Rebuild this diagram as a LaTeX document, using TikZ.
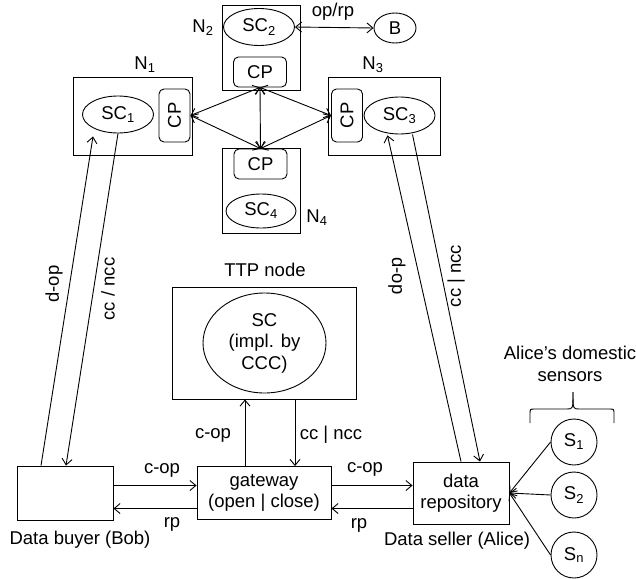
\documentclass[tikz,border=0pt]{standalone}
\usepackage{fontspec}
\setmainfont{Liberation Sans}
\usetikzlibrary{arrows.meta,shapes.geometric}

\begin{document}
\begin{tikzpicture}[
  x=1pt, y=-1pt,
  font=\fontsize{18.5}{21.5}\selectfont,
  line width=0.9pt,
  box/.style={rectangle, draw, inner sep=1pt, align=center},
  cpbox/.style={box, rounded corners=5pt, minimum width=53pt, minimum height=30pt},
  cpvbox/.style={box, rounded corners=5pt, minimum width=31pt, minimum height=53pt},
  sc/.style={ellipse, draw, inner sep=1pt, minimum width=71pt, minimum height=37pt, align=center},
  sensor/.style={circle, draw, inner sep=0pt, minimum size=46pt},
  arrow/.style={-{Straight Barb[length=6pt,width=10pt]}},
  biarrow/.style={{Straight Barb[length=6pt,width=10pt]}-{Straight Barb[length=6pt,width=10pt]}}
]
\useasboundingbox (0,0) rectangle (636,578);

% Blockchain nodes
\node[box, minimum width=78pt, minimum height=85pt] (n2) at (261,47.5) {};
\node[sc] (sc2) at (259,27) {SC\textsubscript{2}};
\node[cpbox] (cp2) at (260,72) {CP};
\node (n2lab) at (203,28) {N\textsubscript{2}};

\node[box, minimum width=119pt, minimum height=78pt] (n1) at (132.5,116) {};
\node[sc] (sc1) at (118,114.5) {SC\textsubscript{1}};
\node[cpvbox] (cp1) at (174.5,115.5) {\rotatebox{90}{CP}};
\node (n1lab) at (145,65) {N\textsubscript{1}};

\node[box, minimum width=112pt, minimum height=78pt] (n3) at (384,116) {};
\node[cpvbox] (cp3) at (347,115.5) {\rotatebox{90}{CP}};
\node[sc] (sc3) at (399.5,115.5) {SC\textsubscript{3}};
\node (n3lab) at (373,65) {N\textsubscript{3}};

\node[box, minimum width=78pt, minimum height=85pt] (n4) at (261,190.5) {};
\node[cpbox] (cp4) at (260.5,164) {CP};
\node[sc, minimum width=70pt, minimum height=34pt] (sc4) at (261,211) {SC\textsubscript{4}};
\node (n4lab) at (317,218) {N\textsubscript{4}};

\node[sc, minimum width=42pt, minimum height=30pt] (b) at (395,28) {B};

% TTP node
\node[box, minimum width=184pt, minimum height=112pt] (ttp) at (264,343) {};
\node[sc, minimum width=123pt, minimum height=100pt] (sc) at (264.5,343) {SC\\(impl. by\\CCC)};
\node (ttplab) at (265,270) {TTP node};

% Parties
\node[box, minimum width=96pt, minimum height=54pt] (bob) at (65,493) {};
\node (boblab) at (80,540) {Data buyer (Bob)};
\node[box, minimum width=134pt, minimum height=53pt] (gw) at (264,493) {gateway\\(open | close)};
\node[box, minimum width=96pt, minimum height=62pt] (repo) at (461,493) {data\\repository};
\node (alicelab) at (457,541) {Data seller (Alice)};

% Sensors
\node[sensor] (s1) at (574,442) {S\textsubscript{1}};
\node[sensor] (s2) at (574,495) {S\textsubscript{2}};
\node[sensor] (sn) at (574,555) {S\textsubscript{n}};
\node[align=center] (senslab) at (570,364) {Alice's domestic\\sensors};
\draw (530,423) -- (530,414) .. controls (530,409) .. (535,409) -- (567,409)
  .. controls (573,409) .. (573,392);
\draw (614,423) -- (614,414) .. controls (614,409) .. (609,409) -- (579,409)
  .. controls (573,409) .. (573,392);

% Arrows between CPs
\draw[biarrow] (cp1.east) -- (cp2.south);
\draw[biarrow] (cp1.east) -- (cp4.north);
\draw[biarrow] (cp2.south) -- (cp4.north);
\draw[biarrow] (cp2.south) -- (cp3.west);
\draw[biarrow] (cp4.north) -- (cp3.west);
\draw[biarrow] (sc2.east) -- (b.west);
\node (oprp) at (333,12) {op/rp};

% Long arrows
\draw[arrow] ([xshift=-24pt]bob.north) -- ([xshift=-25pt,yshift=-3pt]sc1.south);
\draw[arrow] (sc1.south) -- ([xshift=1pt]bob.north);
\node[rotate=90] (dop1) at (54,284) {d-op};
\node[rotate=90] (ncc1) at (108,289) {cc / ncc};
\draw[arrow] (repo.north) -- ([xshift=-12pt,yshift=-1pt]sc3.south);
\draw[arrow] ([xshift=13pt]sc3.south) -- ([xshift=19pt]repo.north);
\node[rotate=-90] (dop3) at (397,276) {d-op};
\node[rotate=90] (ncc3) at (456,276) {cc | ncc};

% Gateway arrows
\draw[arrow] ([yshift=7.5pt]bob.east) -- ([yshift=7.5pt]gw.west);
\draw[arrow] ([yshift=-15.5pt]gw.west) -- ([yshift=-15.5pt]bob.east);
\node (cop1) at (162,470) {c-op};
\node (rp1) at (172,524) {rp};
\draw[arrow] ([yshift=7.5pt]gw.east) -- ([yshift=7.5pt]repo.west);
\draw[arrow] ([yshift=-15.5pt]repo.west) -- ([yshift=-15.5pt]gw.east);
\node (cop2) at (365,469) {c-op};
\node (rp2) at (359,525) {rp};
\draw[arrow] ([xshift=-19pt]gw.north) -- ([xshift=-19pt]ttp.south);
\draw[arrow] ([xshift=31pt]ttp.south) -- ([xshift=31pt]gw.north);
\node (cop3) at (213,435) {c-op};
\node (ncc2) at (331,435) {cc | ncc};

% Sensor arrows
\draw[arrow] (s1.west) -- (repo.east);
\draw[arrow] (s2.west) -- (repo.east);
\draw[arrow] (sn.west) -- (repo.east);

\end{tikzpicture}
\end{document}
